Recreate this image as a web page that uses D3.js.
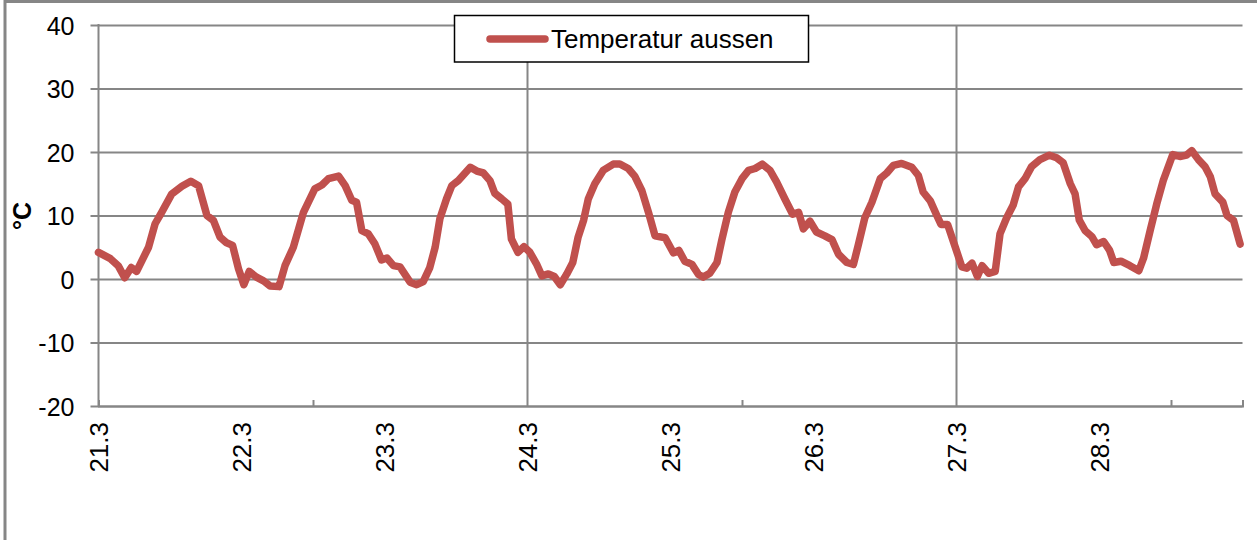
<!DOCTYPE html>
<html>
<head>
<meta charset="utf-8">
<script src="https://cdn.jsdelivr.net/npm/d3@7"></script>
<style>
  html, body { margin: 0; padding: 0; background: #fff; }
  svg { display: block; }
  text { font-family: "Liberation Sans", Arial, sans-serif; fill: #000; }
</style>
</head>
<body>
<svg id="chart" width="1257" height="540"></svg>
<script>
// ---- Data (hours since 21.3 00:00, temperature °C) ----
const hours = [0,2,3.3,4.4,5.5,6.4,8.4,9.5,10.6,12.3,14,15.5,16.8,18.2,19.3,20.4,21.5,22.5,23.5,24.4,25.3,26.5,27.7,28.8,30.3,31.3,32.7,34.4,36.3,37.5,38.6,40.3,41.4,42.5,43.3,44.2,45.3,46.4,47.5,
  48.4,49.5,50.6,52.3,53.4,54.5,55.6,56.5,57.3,58.4,59.3,60.4,62.4,63.5,64.6,65.7,66.5,67.7,68.7,69.3,70.4,71.4,72.4,73.5,74.4,75.5,76.5,77.5,78.6,79.6,80.5,81.4,82.2,83.3,84.7,86.4,87.5,88.9,90.0,91.2,92.3,93.4,95.1,
  96.5,97.4,98.4,99.6,100.7,101.5,102.6,103.8,104.6,105.7,106.8,108.0,109.1,110.2,111.4,112.7,113.8,115.2,116.5,117.5,118.3,119.4,120.5,121.9,123.1,124.2,125.6,126.7,127.5,128.6,129.8,131.2,132.3,133.4,134.8,136.5,137.6,138.4,139.6,140.7,141.4,142.5,
  143.8,144.9,145.7,146.6,147.5,148.3,149.4,150.5,151.3,152.4,153.5,154.4,155.5,156.6,158.0,159.6,160.8,161.9,163.1,163.9,164.6,165.6,166.7,167.5,168.7,169.7,170.4,171.6,173.1,174.6,175.4,176.5,177.6,178.7,180.3,181.5,182.6,183.5,184.6,185.7,186.6,187.4,188.7,189.4,190.5,191.6];
const temps = [4.2,3.2,2.1,0.2,1.8,1.2,5.0,8.7,10.5,13.4,14.6,15.4,14.7,10.0,9.2,6.6,5.7,5.3,1.6,-0.9,1.2,0.3,-0.3,-1.1,-1.2,2.1,5.0,10.5,14.2,14.8,15.8,16.2,14.7,12.4,12.1,7.6,7.1,5.5,3.0,
  3.3,2.1,1.9,-0.5,-0.9,-0.4,1.8,5.0,9.5,12.6,14.7,15.5,17.6,17.0,16.7,15.5,13.5,12.6,11.8,6.3,4.2,5.1,4.2,2.4,0.5,0.8,0.4,-0.9,0.8,2.6,6.6,9.2,12.6,15.0,17.1,18.1,18.1,17.4,16.2,13.9,10.5,6.8,6.5,
  4.1,4.5,2.8,2.3,0.7,0.3,0.9,2.6,6.1,10.5,13.7,15.8,17.1,17.4,18.1,17.1,15.3,12.6,10.2,10.5,7.9,9.1,7.4,6.8,6.2,3.9,2.6,2.3,5.3,9.6,12.1,15.8,16.7,17.9,18.2,17.6,16.3,13.7,12.3,10.0,8.6,8.6,
  5.0,1.9,1.7,2.5,0.4,2.1,0.9,1.2,7.1,9.6,11.6,14.5,15.8,17.7,18.8,19.5,19.1,18.3,15.0,13.4,9.3,7.6,6.7,5.4,5.9,4.5,2.6,2.8,2.1,1.3,3.3,7.6,11.8,15.5,19.6,19.3,19.5,20.2,18.8,17.7,16.1,13.4,12.1,10.0,9.2,5.5];
const dayLabels = ["21.3","22.3","23.3","24.3","25.3","26.3","27.3","28.3"];
const dayHours = [0,24,48,72,96,120,144,168];
const gridHours = [72,144];
const minorTickHours = [36,108,180];
const yTicks = [-20,-10,0,10,20,30,40];
const seriesName = "Temperatur aussen";
const yTitle = "°C";

// ---- Layout ----
const svg = d3.select("#chart");
const L = 98.5, R = 1242.5, T = 25, B = 406;
const x = d3.scaleLinear().domain([0,192]).range([L,R]);
const y = d3.scaleLinear().domain([-20,40]).range([B,T]);
const gridColor = "#868686";
const lineColor = "#C0504D";

// outer chart border
svg.append("rect").attr("x",5).attr("y",1.5).attr("width",1400).attr("height",700)
  .attr("fill","none").attr("stroke",gridColor).attr("stroke-width",3);

// horizontal gridlines + y axis
const yAxis = d3.axisLeft(y).tickValues(yTicks).tickSize(R - L + 8).tickPadding(16).tickFormat(d => String(d));
const gy = svg.append("g").attr("transform",`translate(${R},0)`).call(yAxis);
gy.select(".domain").remove();
gy.selectAll(".tick line").attr("stroke",gridColor).attr("stroke-width",2);
gy.selectAll(".tick text").attr("font-size",25).attr("dy","0.36em")
  .attr("x", -(R - L + 8) - 16);

// vertical gridlines
svg.append("g").selectAll("line").data(gridHours).join("line")
  .attr("x1",d=>x(d)).attr("x2",d=>x(d)).attr("y1",T).attr("y2",B)
  .attr("stroke",gridColor).attr("stroke-width",2);

// y axis line
svg.append("line").attr("x1",L).attr("x2",L).attr("y1",T-1).attr("y2",B)
  .attr("stroke",gridColor).attr("stroke-width",2);

// x axis
const xAxis = d3.axisBottom(x).tickValues(minorTickHours).tickSize(-6).tickFormat("");
const gx = svg.append("g").attr("transform",`translate(0,${B})`).call(xAxis);
gx.select(".domain").attr("stroke",gridColor).attr("stroke-width",2);
gx.selectAll(".tick line").attr("stroke",gridColor).attr("stroke-width",2);

// x labels (rotated)
svg.append("g").selectAll("text").data(dayHours).join("text")
  .attr("transform",(d)=>`translate(${x(d)},${B+16}) rotate(-90)`)
  .attr("text-anchor","end").attr("dy","0.36em").attr("font-size",26)
  .text((d,i)=>dayLabels[i]);

// y title
svg.append("text").attr("transform","translate(22,216) rotate(-90)")
  .attr("text-anchor","middle").attr("dy","0.36em").attr("font-size",25).attr("font-weight","bold")
  .text(yTitle);

// line
const pts = hours.map((h,i)=>[h,temps[i]]);
svg.append("path").datum(pts)
  .attr("d", d3.line().x(d=>x(d[0])).y(d=>y(d[1])))
  .attr("fill","none").attr("stroke",lineColor).attr("stroke-width",7.5)
  .attr("stroke-linejoin","round").attr("stroke-linecap","round");

// legend
const lg = svg.append("g");
lg.append("rect").attr("x",454.5).attr("y",15.5).attr("width",354).attr("height",46.5)
  .attr("fill","#fff").attr("stroke","#000").attr("stroke-width",1.5);
lg.append("line").attr("x1",490).attr("x2",545).attr("y1",39).attr("y2",39)
  .attr("stroke",lineColor).attr("stroke-width",7.5).attr("stroke-linecap","round");
lg.append("text").attr("x",551).attr("y",48).attr("font-size",26).text(seriesName);
</script>
</body>
</html>
